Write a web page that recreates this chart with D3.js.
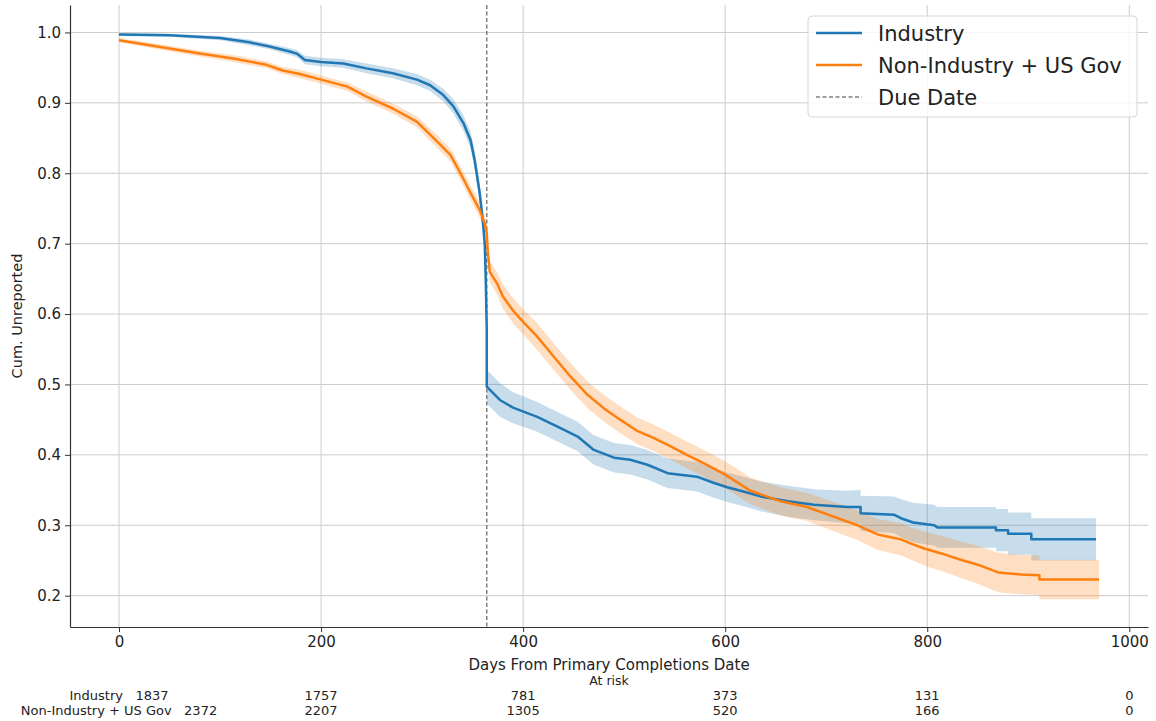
<!DOCTYPE html>
<html>
<head>
<meta charset="utf-8">
<script src="https://cdn.jsdelivr.net/npm/d3@7"></script>
<style>
  body { margin: 0; background: #fff; }
  text { font-family: "DejaVu Sans", sans-serif; fill: #222; }
</style>
</head>
<body>
<div id="chart"></div>
<script>
// survival curves: [day, cum. unreported, CI half width]
const industry = [
    [0, 0.997, 0.002], [50, 0.996, 0.002], [100, 0.992, 0.003], [129, 0.986, 0.004],
    [149, 0.980, 0.004], [169, 0.973, 0.005], [176, 0.970, 0.005], [184, 0.961, 0.006],
    [200, 0.958, 0.006], [222, 0.956, 0.006], [245, 0.949, 0.007], [271, 0.942, 0.007],
    [295, 0.933, 0.008], [308, 0.925, 0.008], [321, 0.911, 0.009], [331, 0.895, 0.010],
    [341, 0.871, 0.011], [348, 0.847, 0.012], [352, 0.819, 0.013], [357, 0.772, 0.014],
    [360, 0.734, 0.015], [362, 0.700, 0.016], [363, 0.650, 0.017], [364, 0.577, 0.020],
    [364, 0.497, 0.024], [377, 0.478, 0.024], [390, 0.467, 0.022], [414, 0.454, 0.021],
    [434, 0.440, 0.021], [454, 0.426, 0.021], [470, 0.407, 0.021], [490, 0.396, 0.021],
    [506, 0.393, 0.021], [523, 0.386, 0.021], [543, 0.374, 0.021], [572, 0.369, 0.021],
    [589, 0.360, 0.021], [602, 0.354, 0.021], [618, 0.348, 0.021], [635, 0.341, 0.021],
    [662, 0.334, 0.022], [688, 0.329, 0.022], [721, 0.326, 0.023], [734, 0.326, 0.024],
    [734, 0.317, 0.025], [767, 0.315, 0.026], [774, 0.310, 0.027], [786, 0.304, 0.028],
    [807, 0.300, 0.029], [810, 0.297, 0.029], [868, 0.297, 0.029], [868, 0.293, 0.030],
    [880, 0.293, 0.030], [880, 0.288, 0.030], [903, 0.288, 0.030], [903, 0.280, 0.030],
    [967, 0.280, 0.030]
];

const nonIndustry = [
    [0, 0.989, 0.003], [47, 0.978, 0.004], [80, 0.970, 0.004], [113, 0.963, 0.005],
    [146, 0.954, 0.005], [162, 0.946, 0.005], [179, 0.941, 0.006], [200, 0.933, 0.006],
    [226, 0.923, 0.006], [245, 0.909, 0.007], [271, 0.892, 0.007], [295, 0.873, 0.008],
    [315, 0.845, 0.009], [328, 0.826, 0.009], [338, 0.800, 0.010], [348, 0.772, 0.010],
    [357, 0.748, 0.011], [362, 0.729, 0.011], [364, 0.715, 0.012], [365, 0.690, 0.013],
    [367, 0.660, 0.015], [374, 0.644, 0.016], [380, 0.625, 0.017], [390, 0.605, 0.018],
    [400, 0.589, 0.018], [414, 0.568, 0.019], [430, 0.540, 0.019], [447, 0.511, 0.019],
    [464, 0.485, 0.019], [480, 0.466, 0.019], [496, 0.450, 0.019], [513, 0.434, 0.019],
    [529, 0.424, 0.019], [546, 0.412, 0.019], [562, 0.400, 0.019], [579, 0.388, 0.019],
    [600, 0.372, 0.019], [625, 0.349, 0.019], [655, 0.334, 0.020], [681, 0.326, 0.020],
    [708, 0.312, 0.021], [731, 0.300, 0.021], [751, 0.287, 0.022], [774, 0.280, 0.023],
    [784, 0.274, 0.023], [797, 0.267, 0.024], [814, 0.260, 0.025], [833, 0.251, 0.026],
    [850, 0.244, 0.027], [863, 0.237, 0.028], [870, 0.233, 0.028], [893, 0.230, 0.028],
    [911, 0.229, 0.028], [911, 0.223, 0.028], [970, 0.223, 0.028]
];

const seriesNames = ['Industry', 'Non-Industry + US Gov'];
const seriesColors = ['#1f77b4', '#ff7f0e'];
const dueDate = 364;

const xTicks = [0, 200, 400, 600, 800, 1000];
const yTicks = [0.2, 0.3, 0.4, 0.5, 0.6, 0.7, 0.8, 0.9, 1.0];
const atRiskIndustry = [1837, 1757, 781, 373, 131, 0];
const atRiskNonIndustry = [2372, 2207, 1305, 520, 166, 0];

const margin = { top: 5, right: 8, bottom: 94, left: 70 };
const width = 1156 - margin.left - margin.right;
const height = 721 - margin.top - margin.bottom;

const svg = d3.select('#chart')
    .append('svg')
    .attr('width', 1156)
    .attr('height', 721)
    .append('g')
    .attr('transform', `translate(${margin.left},${margin.top})`);

const xScale = d3.scaleLinear().domain([-48.5, 1018.5]).range([0, width]);
const yScale = d3.scaleLinear().domain([0.1555, 1.039]).range([height, 0]);

// grid
svg.append('g').selectAll('line.vgrid')
    .data(xTicks).enter().append('line')
    .attr('x1', d => xScale(d)).attr('x2', d => xScale(d))
    .attr('y1', 0).attr('y2', height)
    .attr('stroke', '#cccccc').attr('stroke-width', 1);

svg.append('g').selectAll('line.hgrid')
    .data(yTicks).enter().append('line')
    .attr('x1', 0).attr('x2', width)
    .attr('y1', d => yScale(d)).attr('y2', d => yScale(d))
    .attr('stroke', '#cccccc').attr('stroke-width', 1);

// confidence bands
const band = d3.area()
    .x(d => xScale(d[0]))
    .y0(d => yScale(d[1] - d[2]))
    .y1(d => yScale(d[1] + d[2]));

const line = d3.line()
    .x(d => xScale(d[0]))
    .y(d => yScale(d[1]));

[industry, nonIndustry].forEach((data, i) => {
    svg.append('path')
        .datum(data)
        .attr('d', band)
        .attr('fill', seriesColors[i])
        .attr('fill-opacity', 0.25);
});

// due date
svg.append('line')
    .attr('x1', xScale(dueDate)).attr('x2', xScale(dueDate))
    .attr('y1', 0).attr('y2', height)
    .attr('stroke', '#808080')
    .attr('stroke-width', 1.5)
    .attr('stroke-dasharray', '4,2.5');

[industry, nonIndustry].forEach((data, i) => {
    svg.append('path')
        .datum(data)
        .attr('d', line)
        .attr('fill', 'none')
        .attr('stroke', seriesColors[i])
        .attr('stroke-width', 2.5)
        .attr('stroke-linejoin', 'round');
});

// axes
const xAxis = svg.append('g')
    .attr('class', 'x-axis')
    .attr('transform', `translate(0,${height})`)
    .call(d3.axisBottom(xScale).tickValues(xTicks).tickFormat(d3.format('d')).tickSize(5).tickPadding(4).tickSizeOuter(0));

const yAxis = svg.append('g')
    .attr('class', 'y-axis')
    .call(d3.axisLeft(yScale).tickValues(yTicks).tickFormat(d3.format('.1f')).tickSize(5).tickPadding(4).tickSizeOuter(0));

[xAxis, yAxis].forEach(ax => {
    ax.selectAll('text').style('font-size', '15px').style('font-family', '"DejaVu Sans", sans-serif').attr('fill', '#222');
    ax.selectAll('line').attr('stroke', '#333');
    ax.select('.domain').attr('stroke', '#333').attr('stroke-width', 1.2);
});

// axis labels
svg.append('text')
    .attr('transform', `translate(${width / 2},${height + 43})`)
    .style('text-anchor', 'middle')
    .style('font-size', '15px')
    .text('Days From Primary Completions Date');

svg.append('text')
    .attr('transform', `translate(${-margin.left + 22},${height / 2}) rotate(-90)`)
    .style('text-anchor', 'middle')
    .style('font-size', '14.5px')
    .text('Cum. Unreported');

// at-risk table
svg.append('text')
    .attr('transform', `translate(${width / 2},${height + 58})`)
    .style('text-anchor', 'middle')
    .style('font-size', '12.5px')
    .text('At risk');

const rows = [atRiskIndustry, atRiskNonIndustry];
rows.forEach((counts, r) => {
    svg.append('g').selectAll('text')
        .data(xTicks).enter().append('text')
        .attr('x', d => xScale(d))
        .attr('y', height + 73 + r * 15)
        .style('text-anchor', 'middle')
        .style('font-size', '13px')
        .style('white-space', 'pre')
        .attr('xml:space', 'preserve')
        .text((d, i) => i === 0 ? `${seriesNames[r]}   ${counts[i]}` : counts[i]);
});

// legend
const legend = svg.append('g').attr('transform', `translate(${738},${11})`);
legend.append('rect')
    .attr('width', 329).attr('height', 101)
    .attr('rx', 4)
    .attr('fill', '#fff').attr('fill-opacity', 0.8)
    .attr('stroke', '#d6d6d6');

const legendItems = [
    { label: seriesNames[0], color: seriesColors[0], dash: null, width: 2.5 },
    { label: seriesNames[1], color: seriesColors[1], dash: null, width: 2.5 },
    { label: 'Due Date', color: '#808080', dash: '4,2.5', width: 1.5 }
];
legendItems.forEach((item, i) => {
    const y = 17 + i * 32;
    legend.append('line')
        .attr('x1', 8).attr('x2', 54)
        .attr('y1', y).attr('y2', y)
        .attr('stroke', item.color)
        .attr('stroke-width', item.width)
        .attr('stroke-dasharray', item.dash);
    legend.append('text')
        .attr('x', 70).attr('y', y)
        .attr('dy', '0.36em')
        .style('font-size', '21px')
        .text(item.label);
});
</script>
</body>
</html>
